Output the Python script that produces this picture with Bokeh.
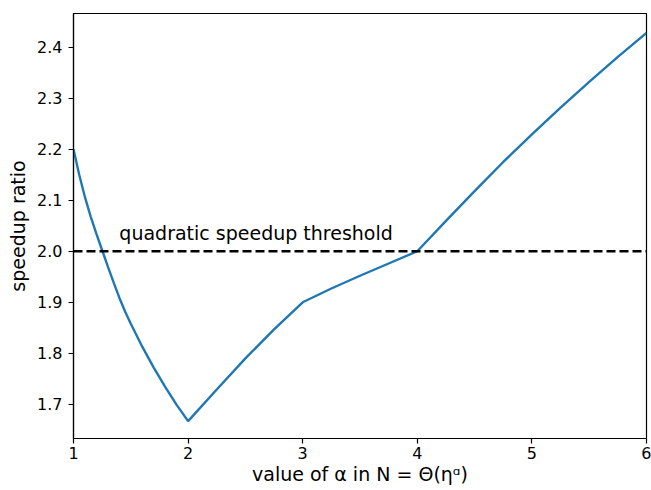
from bokeh.plotting import figure
from bokeh.models import Range1d, Span, Label, FixedTicker, NumeralTickFormatter
from bokeh.embed import file_html
from bokeh.resources import INLINE

# data
alpha = [1.0, 1.05, 1.1, 1.15, 1.2, 1.25, 1.3, 1.35, 1.4, 1.45, 1.5, 1.6, 1.7, 1.8, 1.9, 2.0,
         2.25, 2.5, 2.75, 3.0, 3.25, 3.5, 3.75, 4.0,
         4.25, 4.5, 4.75, 5.0, 5.25, 5.5, 5.75, 6.0]
ratio = [2.2, 2.150, 2.106, 2.068, 2.034, 2.002, 1.970, 1.939, 1.909, 1.882, 1.858, 1.813,
         1.772, 1.734, 1.699, 1.667,
         1.729, 1.79, 1.847, 1.9, 1.927, 1.952, 1.976, 2.0,
         2.0595, 2.118, 2.175, 2.229, 2.2815, 2.332, 2.381, 2.428]
threshold = 2.0
threshold_label = "quadratic speedup threshold"
label_pos = (1.4, 2.036)
x_ticks = [1, 2, 3, 4, 5, 6]
y_ticks = [1.7, 1.8, 1.9, 2.0, 2.1, 2.2, 2.3, 2.4]

FONT = "DejaVu Sans"

p = figure(width=651, height=490, output_backend="svg", toolbar_location=None,
           x_range=Range1d(1, 6), y_range=Range1d(1.633, 2.466),
           min_border_left=73, min_border_right=5, min_border_top=13, min_border_bottom=52)
p.background_fill_color = "white"
p.border_fill_color = "white"
p.outline_line_color = "black"
p.outline_line_width = 1.2
p.grid.visible = False

p.line(alpha, ratio, line_color="#1f77b4", line_width=2.4)
p.add_layout(Span(location=threshold, dimension="width", line_color="black",
                  line_width=2.4, line_dash="9 4"))
p.add_layout(Label(x=label_pos[0], y=label_pos[1], text=threshold_label,
                   text_font=FONT, text_font_size="19px", text_color="black",
                   text_baseline="alphabetic", text_align="left"))

for ax in (p.xaxis[0], p.yaxis[0]):
    ax.axis_line_color = "black"
    ax.axis_line_width = 1.2
    ax.major_tick_line_color = "black"
    ax.major_tick_line_width = 1.2
    ax.major_tick_out = 5
    ax.major_tick_in = 0
    ax.minor_tick_line_color = None
    ax.major_label_text_font = FONT
    ax.major_label_text_font_size = "16px"
    ax.major_label_text_color = "black"
    ax.axis_label_text_font = FONT
    ax.axis_label_text_font_size = "19px"
    ax.axis_label_text_font_style = "normal"
    ax.axis_label_text_color = "black"

p.xaxis.major_label_standoff = 3
p.xaxis.axis_label_standoff = 1
p.yaxis.major_label_standoff = 6
p.yaxis.axis_label_standoff = 5

p.xaxis.ticker = FixedTicker(ticks=x_ticks)
p.yaxis.ticker = FixedTicker(ticks=y_ticks)
p.yaxis.formatter = NumeralTickFormatter(format="0.0")
p.xaxis.axis_label = "value of α in N = Θ(ηᵅ)"
p.yaxis.axis_label = "speedup ratio"

open("out.html", "w").write(file_html(p, INLINE))
